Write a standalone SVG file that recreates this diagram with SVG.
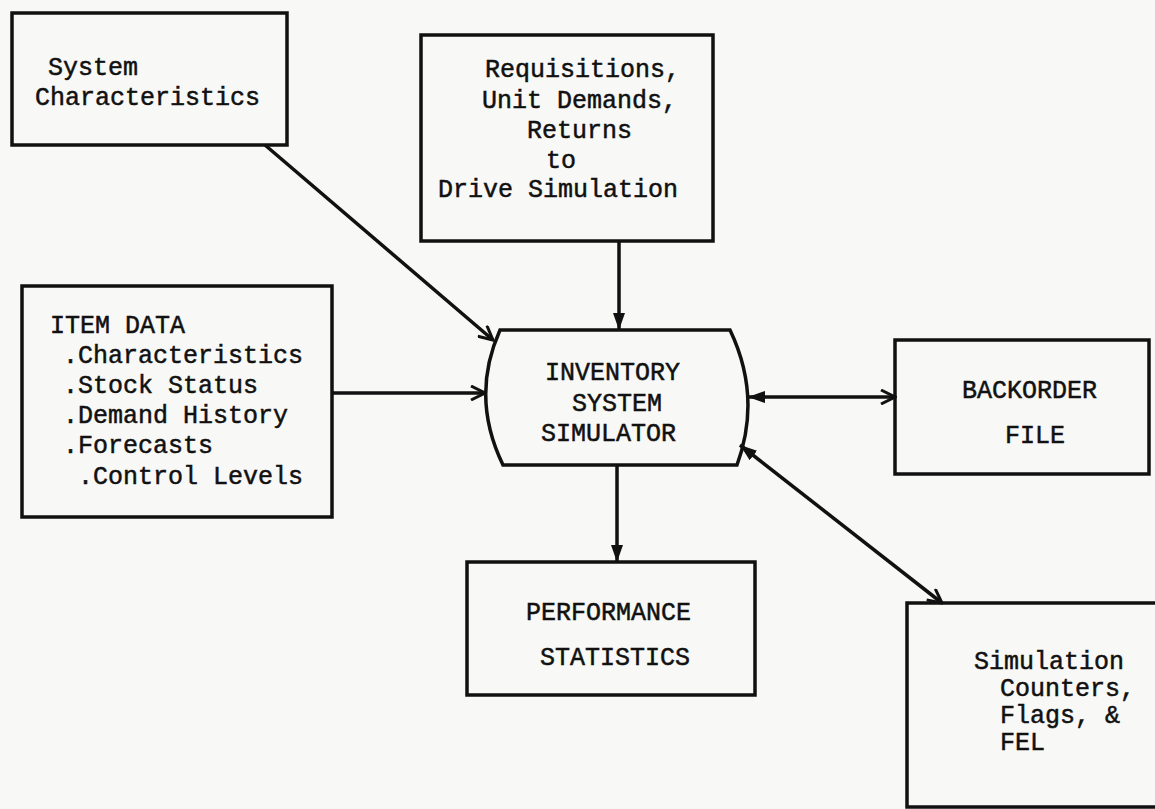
<svg xmlns="http://www.w3.org/2000/svg" width="1155" height="809" viewBox="0 0 1155 809">
  <defs>
    <style>
      .box { fill: none; stroke: #111; stroke-width: 3.5; }
      .t { font-family: "Liberation Mono", "Courier New", monospace; font-size: 25px; fill: #111; stroke: #111; stroke-width: 0.5; }
      .c { fill: none; stroke: #111; stroke-width: 3.5; }
    </style>
    <marker id="openV" markerUnits="userSpaceOnUse" markerWidth="18" markerHeight="16" viewBox="0 0 18 16" refX="16" refY="8" orient="auto-start-reverse">
      <path d="M2,1 L16,8 L2,15" fill="none" stroke="#111" stroke-width="3"/>
    </marker>
    <marker id="solid" markerUnits="userSpaceOnUse" markerWidth="18" markerHeight="16" viewBox="0 0 18 16" refX="17" refY="8" orient="auto-start-reverse">
      <path d="M0,2 L17,8 L0,14 Z" fill="#111"/>
    </marker>
  </defs>
  <rect width="1155" height="809" fill="#f8f8f6"/>

  <g id="connectors">
    <line class="c" x1="265" y1="145" x2="493" y2="340" marker-end="url(#openV)"/>
    <line class="c" x1="619" y1="241" x2="619" y2="330" marker-end="url(#solid)"/>
    <line class="c" x1="332" y1="393" x2="485" y2="393" marker-end="url(#openV)"/>
    <line class="c" x1="748" y1="397" x2="895" y2="397" marker-start="url(#solid)" marker-end="url(#openV)"/>
    <line class="c" x1="617" y1="465" x2="617" y2="562" marker-end="url(#solid)"/>
    <line class="c" x1="740" y1="445" x2="942" y2="603" marker-start="url(#solid)" marker-end="url(#openV)"/>
  </g>

  <g id="system-characteristics">
    <rect class="box" x="12" y="13" width="275" height="132"/>
    <text class="t" x="48" y="75">System</text>
    <text class="t" x="35" y="105">Characteristics</text>
  </g>

  <g id="requisitions">
    <rect class="box" x="421" y="35" width="292" height="206"/>
    <text class="t" x="485" y="77">Requisitions,</text>
    <text class="t" x="482" y="108">Unit Demands,</text>
    <text class="t" x="527" y="138">Returns</text>
    <text class="t" x="546" y="168">to</text>
    <text class="t" x="438" y="197">Drive Simulation</text>
  </g>

  <g id="item-data">
    <rect class="box" x="22" y="286" width="310" height="231"/>
    <text class="t" x="50" y="333">ITEM DATA</text>
    <text class="t" x="63" y="363">.Characteristics</text>
    <text class="t" x="63" y="393">.Stock Status</text>
    <text class="t" x="63" y="423">.Demand History</text>
    <text class="t" x="63" y="453">.Forecasts</text>
    <text class="t" x="78" y="484">.Control Levels</text>
  </g>

  <g id="simulator">
    <path class="box" d="M500,330 L730,330 Q762,397 737,465 L503,465 Q470,397 500,330 Z"/>
    <text class="t" x="545" y="380">INVENTORY</text>
    <text class="t" x="572" y="411">SYSTEM</text>
    <text class="t" x="541" y="441">SIMULATOR</text>
  </g>

  <g id="backorder-file">
    <rect class="box" x="895" y="340" width="254" height="134"/>
    <text class="t" x="962" y="398">BACKORDER</text>
    <text class="t" x="1005" y="443">FILE</text>
  </g>

  <g id="performance-statistics">
    <rect class="box" x="467" y="562" width="288" height="133"/>
    <text class="t" x="526" y="620">PERFORMANCE</text>
    <text class="t" x="540" y="665">STATISTICS</text>
  </g>

  <g id="simulation-counters">
    <rect class="box" x="907" y="603" width="270" height="204"/>
    <text class="t" x="974" y="669">Simulation</text>
    <text class="t" x="1000" y="696">Counters,</text>
    <text class="t" x="1000" y="723">Flags, &amp;</text>
    <text class="t" x="1000" y="750">FEL</text>
  </g>
</svg>
